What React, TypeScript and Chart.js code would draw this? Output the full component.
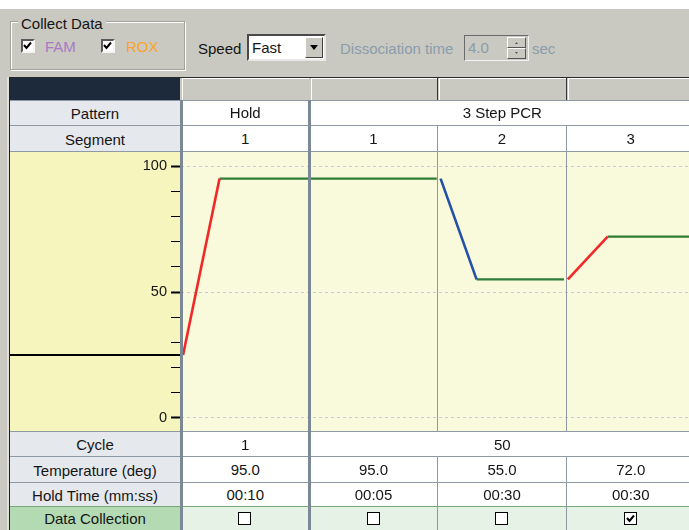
import React, { useEffect, useRef } from "react";
import { Chart, registerables } from "chart.js";
Chart.register(...registerables);

// ---- data ----
const startTemp = 25;
const yTickValues = [0, 10, 20, 30, 40, 50, 60, 70, 80, 90, 100];
const yLabelValues = [0, 50, 100];
const holdRamp = [{ x: 0.016, y: 25 }, { x: 0.3, y: 95 }];
const denaturePlateau = [{ x: 0.3, y: 95 }, { x: 1.99, y: 95 }];
const annealRamp = [{ x: 2.02, y: 95 }, { x: 2.3, y: 55 }];
const annealPlateau = [{ x: 2.3, y: 55 }, { x: 2.98, y: 55 }];
const extendRamp = [{ x: 3.01, y: 55 }, { x: 3.32, y: 72 }];
const extendPlateau = [{ x: 3.32, y: 72 }, { x: 3.96, y: 72 }];

const patterns = ["Hold", "3 Step PCR"];
const segments = ["1", "1", "2", "3"];
const cycles = ["1", "50"];
const temperatures = ["95.0", "95.0", "55.0", "72.0"];
const holdTimes = ["00:10", "00:05", "00:30", "00:30"];
const dataCollection = [false, false, false, true];

const FONT = '"Liberation Sans", Arial, sans-serif';
const FS = 15;
const GRAY = "#c9c9c1";
const LINE = "#8e99a4";
const THICK = "#7b8997";

const colX = [181, 309.5, 437.5, 566.5, 695];

function Box(p: { x: number; y: number; w: number; h: number; style?: any; children?: any }) {
  return (
    <div style={{ position: "absolute", left: p.x, top: p.y, width: p.w, height: p.h, ...(p.style || {}) }}>
      {p.children}
    </div>
  );
}

function Txt(p: { x: number; w: number; cy: number; text: string; color?: string; align?: any; size?: number }) {
  return (
    <div
      style={{
        position: "absolute",
        left: p.x,
        width: p.w,
        top: p.cy - 10,
        height: 20,
        lineHeight: "20px",
        textAlign: p.align || "center",
        fontSize: p.size || FS,
        color: p.color || "#151515",
        whiteSpace: "nowrap",
      }}
    >
      {p.text}
    </div>
  );
}

function Check(p: { x: number; y: number; checked: boolean; sunken?: boolean }) {
  const s = p.sunken ? 14 : 13;
  return (
    <div
      style={{
        position: "absolute",
        left: p.x,
        top: p.y,
        width: s,
        height: s,
        boxSizing: "border-box",
        background: "#fff",
        border: p.sunken ? "2px solid" : "1px solid #6e6e6e",
        borderColor: p.sunken ? "#5a5a5a #f4f4f4 #f4f4f4 #5a5a5a" : undefined,
      }}
    >
      {p.checked && (
        <svg width="11" height="11" style={{ position: "absolute", left: p.sunken ? -1 : 0, top: p.sunken ? -1 : 0 }}>
          <polyline points="2,5 4.5,8 9,2.5" fill="none" stroke="#000" strokeWidth="2" />
        </svg>
      )}
    </div>
  );
}

export default function App() {
  const ref = useRef<HTMLCanvasElement | null>(null);

  useEffect(() => {
    document.body.style.margin = "0";
    const startLine = {
      id: "startLine",
      afterDraw(chart: any) {
        const { ctx, chartArea, scales } = chart;
        const y = Math.round(scales.y.getPixelForValue(startTemp));
        ctx.save();
        ctx.strokeStyle = "#000";
        ctx.lineWidth = 2;
        ctx.beginPath();
        ctx.moveTo(0, y);
        ctx.lineTo(chartArea.left, y);
        ctx.stroke();
        ctx.restore();
      },
    };
    const ds = (data: any[], color: string, w = 2.2) => ({
      data,
      borderColor: color,
      borderWidth: w,
      pointRadius: 0,
      fill: false,
      tension: 0,
    });
    const chart = new Chart(ref.current as HTMLCanvasElement, {
      type: "line",
      data: {
        datasets: [
          ds(holdRamp, "#f02828", 2.6),
          ds(denaturePlateau, "#2e7d36"),
          ds(annealRamp, "#2450a8", 2.6),
          ds(annealPlateau, "#2e7d36"),
          ds(extendRamp, "#f02828", 2.6),
          ds(extendPlateau, "#2e7d36"),
        ] as any,
      },
      options: {
        animation: false,
        responsive: false,
        maintainAspectRatio: false,
        layout: { padding: 0 },
        plugins: { legend: { display: false }, tooltip: { enabled: false } },
        scales: {
          x: { type: "linear", min: 0, max: 3.953, display: false },
          y: {
            type: "linear",
            min: -5.16,
            max: 105.56,
            afterBuildTicks: (s: any) => {
              s.ticks = yTickValues.map((v) => ({ value: v }));
            },
            afterFit: (s: any) => {
              s.width = 171;
              s.paddingTop = 0;
              s.paddingBottom = 0;
            },
            border: { display: false, dash: [3, 3] },
            grid: {
              color: (c: any) => (yLabelValues.includes(c.tick?.value) ? "#c3cadc" : "rgba(0,0,0,0)"),
              lineWidth: 1,
              tickColor: "#000",
              tickLength: 10,
              tickWidth: (c: any) => (yLabelValues.includes(c.tick?.value) ? 2 : 1),
              tickBorderDash: [],
            },
            ticks: {
              autoSkip: false,
              padding: 4,
              color: "#151515",
              font: { family: FONT, size: 14.5 },
              callback: (v: any) => (yLabelValues.includes(Number(v)) ? String(v) : ""),
            },
          },
        },
      },
      plugins: [startLine],
    } as any);
    return () => chart.destroy();
  }, []);

  const colCenter = (i: number) => (colX[i] + colX[i + 1]) / 2;
  const rows = [
    { label: "Pattern", top: 100, bottom: 125 },
    { label: "Segment", top: 126, bottom: 151 },
    { label: "Cycle", top: 432, bottom: 456 },
    { label: "Temperature (deg)", top: 457, bottom: 482 },
    { label: "Hold Time (mm:ss)", top: 483, bottom: 506 },
  ];

  return (
    <div
      style={{
        position: "fixed",
        left: 0,
        top: 0,
        width: 689,
        height: 530,
        overflow: "hidden",
        background: GRAY,
        fontFamily: FONT,
        fontSize: FS,
      }}
    >
      {/* top white strip */}
      <Box x={0} y={0} w={689} h={9} style={{ background: "#fff" }} />

      {/* Collect Data group */}
      <Box x={10} y={21} w={175} h={49} style={{ boxSizing: "border-box", border: "1px solid #a2a29c", boxShadow: "inset 1px 1px 0 #fff, 1px 1px 0 #fff" }} />
      <div style={{ position: "absolute", left: 18, top: 15, padding: "0 3px", background: GRAY, lineHeight: "18px", color: "#151515" }}>
        Collect Data
      </div>
      <Check x={21} y={39} checked sunken />
      <Txt x={45} w={40} cy={47} text="FAM" color="#a77ac6" align="left" />
      <Check x={101} y={39} checked sunken />
      <Txt x={126} w={40} cy={47} text="ROX" color="#f7a52e" align="left" />

      {/* Speed */}
      <Txt x={198} w={50} cy={49} text="Speed" align="left" />
      <Box x={247} y={34} w={79} h={27} style={{ boxSizing: "border-box", background: "#fff", border: "2px solid", borderColor: "#4a4a4a #e8e8e8 #e8e8e8 #4a4a4a" }}>
        <div style={{ position: "absolute", left: 3, top: 2, lineHeight: "20px", color: "#151515" }}>Fast</div>
        <div style={{ position: "absolute", right: 1, top: 1, width: 18, height: 21, boxSizing: "border-box", background: GRAY, border: "1px solid", borderColor: "#fff #404040 #404040 #fff" }}>
          <svg width="16" height="19" style={{ position: "absolute", left: 0, top: 0 }}>
            <polygon points="4,7 12,7 8,12" fill="#000" />
          </svg>
        </div>
      </Box>

      {/* Dissociation */}
      <Txt x={340} w={125} cy={49} text="Dissociation time" color="#8b9cab" align="left" />
      <Box x={464} y={35} w={65} h={26} style={{ boxSizing: "border-box", background: GRAY, border: "1px solid", borderColor: "#6a6a6a #f4f4f4 #f4f4f4 #6a6a6a" }}>
        <div style={{ position: "absolute", left: 3, top: 2, lineHeight: "20px", color: "#8b9cab" }}>4.0</div>
        <div style={{ position: "absolute", left: 42, top: 1, width: 19, height: 11, boxSizing: "border-box", background: GRAY, border: "1px solid", borderColor: "#fff #555 #555 #fff" }}>
          <svg width="17" height="9" style={{ position: "absolute", left: 0, top: 0 }}>
            <polygon points="7,6 10,6 8.5,4" fill="#555" />
          </svg>
        </div>
        <div style={{ position: "absolute", left: 42, top: 12, width: 19, height: 11, boxSizing: "border-box", background: GRAY, border: "1px solid", borderColor: "#fff #555 #555 #fff" }}>
          <svg width="17" height="9" style={{ position: "absolute", left: 0, top: 0 }}>
            <polygon points="7,3 10,3 8.5,5" fill="#555" />
          </svg>
        </div>
      </Box>
      <Txt x={532} w={40} cy={49} text="sec" color="#8b9cab" align="left" />

      {/* left edge */}
      <Box x={7} y={77} w={2} h={453} style={{ background: "#e2e0da" }} />
      <Box x={9} y={77} w={1} h={453} style={{ background: "#1f1f1f" }} />

      {/* header row */}
      <Box x={10} y={77} w={679} h={1} style={{ background: "#2a2a2a" }} />
      <Box x={10} y={78} w={170} h={22} style={{ background: "#1d2a3c" }} />
      {[0, 1, 2, 3].map((i) => (
        <Box
          key={"h" + i}
          x={Math.round(colX[i]) + 1}
          y={78}
          w={Math.round(colX[i + 1]) - Math.round(colX[i]) - 2}
          h={22}
          style={{ background: GRAY, boxShadow: "inset 1px 1px 0 #fff" }}
        />
      ))}
      {[437, 566].map((x) => (
        <Box key={"hs" + x} x={x} y={78} w={1} h={22} style={{ background: "#353535" }} />
      ))}

      {/* row backgrounds */}
      {rows.map((r) => (
        <React.Fragment key={r.label}>
          <Box x={10} y={r.top} w={170} h={r.bottom - r.top} style={{ background: "#e5e8ed" }} />
          <Box x={180} y={r.top} w={509} h={r.bottom - r.top} style={{ background: "#fff" }} />
        </React.Fragment>
      ))}
      <Box x={10} y={507} w={170} h={23} style={{ background: "#b4dab4" }} />
      <Box x={180} y={507} w={509} h={23} style={{ background: "#e7f2e6" }} />

      {/* chart backgrounds */}
      <Box x={10} y={152} w={171} h={279} style={{ background: "#f5f5bd" }} />
      <Box x={181} y={152} w={508} h={279} style={{ background: "#f9f9dc" }} />

      {/* chart */}
      <canvas ref={ref} width={679} height={279} style={{ position: "absolute", left: 10, top: 152, width: 679, height: 279 }} />

      {/* horizontal lines */}
      {[100, 125, 151, 431, 456, 482].map((y) => (
        <Box key={"hl" + y} x={10} y={y} w={679} h={1} style={{ background: LINE }} />
      ))}
      <Box x={10} y={506} w={679} h={1} style={{ background: "#78a878" }} />

      {/* vertical lines */}
      <Box x={437} y={125} w={1} h={306} style={{ background: LINE }} />
      <Box x={566} y={125} w={1} h={306} style={{ background: LINE }} />
      <Box x={437} y={456} w={1} h={74} style={{ background: LINE }} />
      <Box x={566} y={456} w={1} h={74} style={{ background: LINE }} />
      <Box x={180} y={100} w={3} h={430} style={{ background: THICK }} />
      <Box x={308} y={100} w={3} h={430} style={{ background: THICK }} />

      {/* row labels */}
      {rows.map((r) => (
        <Txt key={"l" + r.label} x={10} w={170} cy={(r.top + r.bottom) / 2 + 1} text={r.label} />
      ))}
      <Txt x={10} w={170} cy={519} text="Data Collection" />

      {/* cell texts */}
      <Txt x={colX[0]} w={colX[1] - colX[0]} cy={113} text={patterns[0]} />
      <Txt x={colX[1]} w={colX[4] - colX[1]} cy={113} text={patterns[1]} />
      {segments.map((s, i) => (
        <Txt key={"s" + i} x={colCenter(i) - 40} w={80} cy={139} text={s} />
      ))}
      <Txt x={colX[0]} w={colX[1] - colX[0]} cy={445} text={cycles[0]} />
      <Txt x={colX[1]} w={colX[4] - colX[1]} cy={445} text={cycles[1]} />
      {temperatures.map((s, i) => (
        <Txt key={"t" + i} x={colCenter(i) - 40} w={80} cy={470} text={s} />
      ))}
      {holdTimes.map((s, i) => (
        <Txt key={"ht" + i} x={colCenter(i) - 40} w={80} cy={495} text={s} />
      ))}
      {dataCollection.map((c, i) => (
        <Check key={"dc" + i} x={Math.round(colCenter(i)) - 7} y={512} checked={c} />
      ))}
    </div>
  );
}
